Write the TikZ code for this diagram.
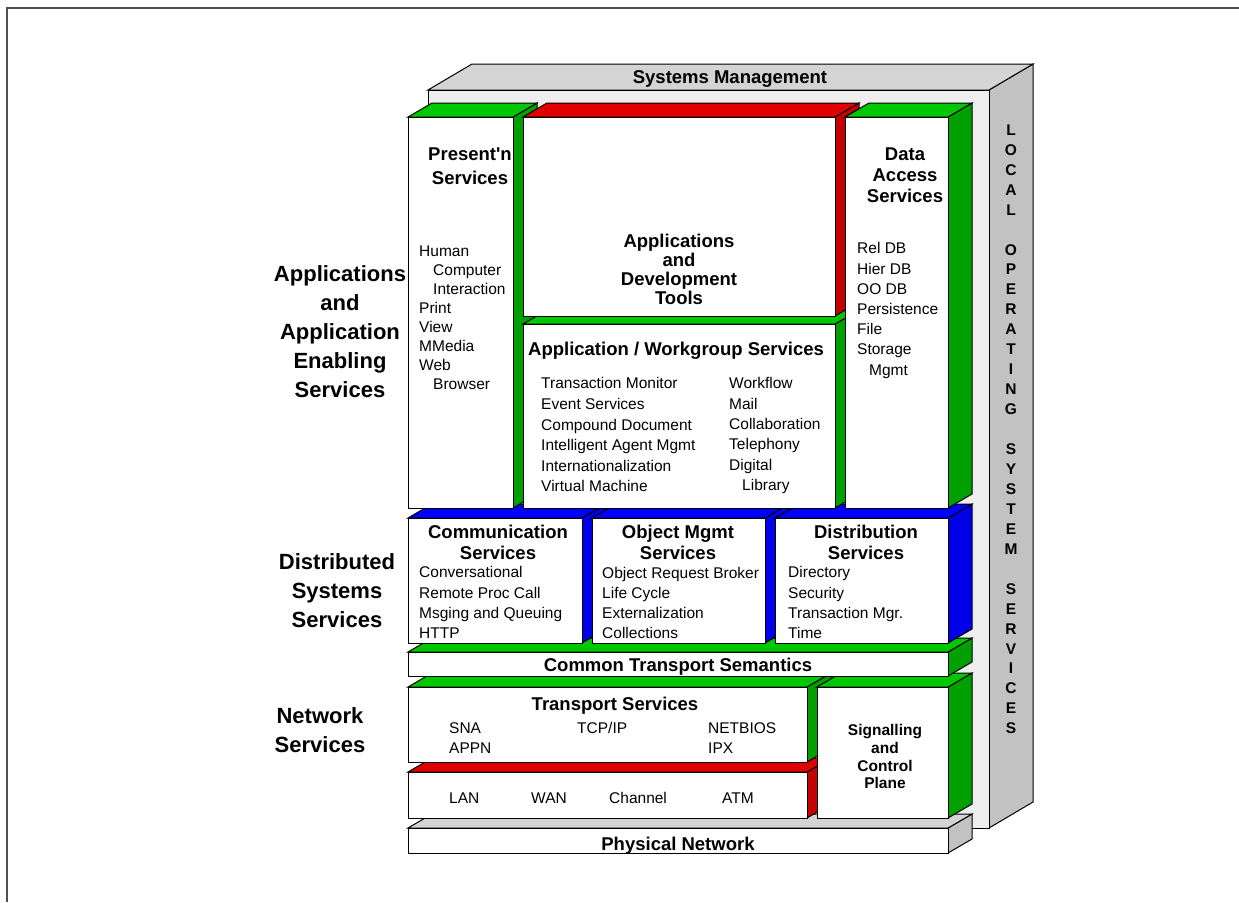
\documentclass[tikz,border=0pt]{standalone}
\usepackage{fontspec}
\setmainfont{Liberation Sans}
\definecolor{topgreen}{RGB}{0,200,0}
\definecolor{sidegreen}{RGB}{0,160,0}
\definecolor{topred}{RGB}{224,0,0}
\definecolor{sidered}{RGB}{196,0,0}
\definecolor{topblue}{RGB}{0,0,255}
\definecolor{sideblue}{RGB}{0,0,232}
\definecolor{topgray}{RGB}{212,212,212}
\definecolor{sidegray}{RGB}{194,194,194}
\definecolor{frontgray}{RGB}{238,238,238}
\definecolor{framegray}{RGB}{80,80,80}
% slab: front top-left (#1,#2), front bottom-right (#3,#4), top fill #5, side fill #6
\newcommand{\slab}[6]{%
  \filldraw[edge, fill=#6] (#3,#2) -- (#3+24,#2-14) -- (#3+24,#4-14) -- (#3,#4) -- cycle;
  \filldraw[edge, fill=#5] (#1,#2) -- (#1+24,#2-14) -- (#3+24,#2-14) -- (#3,#2) -- cycle;
  \filldraw[edge, fill=white] (#1,#2) rectangle (#3,#4);}
\begin{document}
\begin{tikzpicture}[x=1pt,y=-1pt,
    edge/.style={draw=black, line width=1pt},
    head/.style={font=\fontsize{18.5}{21}\selectfont\bfseries, align=center, inner sep=0pt, anchor=north},
    body/.style={font=\fontsize{15.5}{20.5}\selectfont, align=left, inner sep=0pt, anchor=north west},
    layer/.style={font=\fontsize{22}{29}\selectfont\bfseries, align=center, inner sep=0pt, anchor=north},
    osletter/.style={font=\fontsize{15.5}{15.5}\selectfont\bfseries, inner sep=0pt}]
    \useasboundingbox (0,0) rectangle (1239,902);
    \draw[framegray, line width=2pt] (7,902) -- (7,8) -- (1239,8);
    % back plate: systems management and local operating system services
    \filldraw[edge, fill=sidegray] (989,90) -- (1033,64) -- (1033,802) -- (989,828) -- cycle;
    \filldraw[edge, fill=topgray] (428,90) -- (472,64) -- (1033,64) -- (989,90) -- cycle;
    \filldraw[edge, fill=frontgray] (428,90) rectangle (989,828);
    \node[head] (sysmgmt) at (730,70.4) {Systems Management};
    \foreach \ch [count=\i from 0] in {L,O,C,A,L,{},O,P,E,R,A,T,I,N,G,{},S,Y,S,T,E,M,{},S,E,R,V,I,C,E,S}
        \node[osletter] (os\i) at (1011,{130+19.95*\i}) {\ch};
    % network layers
    \slab{408}{828}{948}{853}{topgray}{sidegray}
    \slab{408}{772}{807}{818}{topred}{sidered}
    \slab{408}{687}{807}{762}{topgreen}{sidegreen}
    \slab{817}{687}{948}{818}{topgreen}{sidegreen}
    \slab{408}{652}{948}{676}{topgreen}{sidegreen}
    % distributed systems layer
    \slab{408}{518}{582}{643}{topblue}{sideblue}
    \slab{592}{518}{765}{643}{topblue}{sideblue}
    \slab{775}{518}{948}{643}{topblue}{sideblue}
    % application layer
    \slab{408}{117}{513}{508}{topgreen}{sidegreen}
    \slab{523}{324}{835}{508}{topgreen}{sidegreen}
    \slab{523}{117}{835}{316}{topred}{sidered}
    \slab{845}{117}{948}{508}{topgreen}{sidegreen}
    % texts
    \node[head, font=\fontsize{18.5}{24}\selectfont\bfseries] (pres) at (470,147.4) {Present\textquotesingle n\\Services};
    \node[body, font=\fontsize{15.5}{19}\selectfont] (presitems) at (419,245.4)
        {Human\\\hspace*{14pt}Computer\\\hspace*{14pt}Interaction\\Print\\View\\MMedia\\Web\\\hspace*{14pt}Browser};
    \node[head, font=\fontsize{18.5}{19.2}\selectfont\bfseries] (apps) at (679,233.4) {Applications\\and\\Development\\Tools};
    \node[head] (data) at (905,147.4) {Data\\Access\\Services};
    \node[body, font=\fontsize{15.5}{20.2}\selectfont] (dataitems) at (857,242.4)
        {Rel DB\\Hier DB\\OO DB\\Persistence\\File\\Storage\\\hspace*{12pt}Mgmt};
    \node[head] (appwork) at (676,341.4) {Application / Workgroup Services};
    \node[body, font=\fontsize{15.5}{20.6}\selectfont] (appleft) at (541,377.4)
        {Transaction Monitor\\Event Services\\Compound Document\\Intelligent Agent Mgmt\\Internationalization\\Virtual Machine};
    \node[body, font=\fontsize{15.5}{20.3}\selectfont] (appright) at (729,377.4)
        {Workflow\\Mail\\Collaboration\\Telephony\\Digital\\\hspace*{13pt}Library};
    \node[head] (comm) at (498,524.4) {Communication\\Services};
    \node[body, font=\fontsize{15.5}{20.3}\selectfont] (commitems) at (419,566.4)
        {Conversational\\Remote Proc Call\\Msging and Queuing\\HTTP};
    \node[head] (objm) at (678,524.4) {Object Mgmt\\Services};
    \node[body, font=\fontsize{15.5}{20}\selectfont] (objitems) at (602,567.4)
        {Object Request Broker\\Life Cycle\\Externalization\\Collections};
    \node[head] (dist) at (866,524.4) {Distribution\\Services};
    \node[body, font=\fontsize{15.5}{20.3}\selectfont] (distitems) at (788,566.4)
        {Directory\\Security\\Transaction Mgr.\\Time};
    \node[head] (cts) at (678,657.4) {Common Transport Semantics};
    \node[head] (trans) at (615,696.4) {Transport Services};
    \node[body, font=\fontsize{15.5}{20}\selectfont] (sna) at (449,722.4) {SNA\\APPN};
    \node[body] (tcpip) at (577,722.4) {TCP/IP};
    \node[body, font=\fontsize{15.5}{20}\selectfont] (netbios) at (708,722.4) {NETBIOS\\IPX};
    \node[body] (lan) at (449,792.4) {LAN};
    \node[body] (wan) at (531,792.4) {WAN};
    \node[body] (chan) at (609,792.4) {Channel};
    \node[body] (atm) at (722,792.4) {ATM};
    \node[head, font=\fontsize{15.5}{17.7}\selectfont\bfseries] (signal) at (885,724.4) {Signalling\\and\\Control\\Plane};
    \node[head] (phys) at (678,836.4) {Physical Network};
    % layer captions
    \node[layer] (appsvc) at (340,265.1) {Applications\\and\\Application\\Enabling\\Services};
    \node[layer] (distsvc) at (337,553.1) {Distributed\\Systems\\Services};
    \node[layer] (netsvc) at (320,707.1) {Network\\Services};
\end{tikzpicture}
\end{document}
